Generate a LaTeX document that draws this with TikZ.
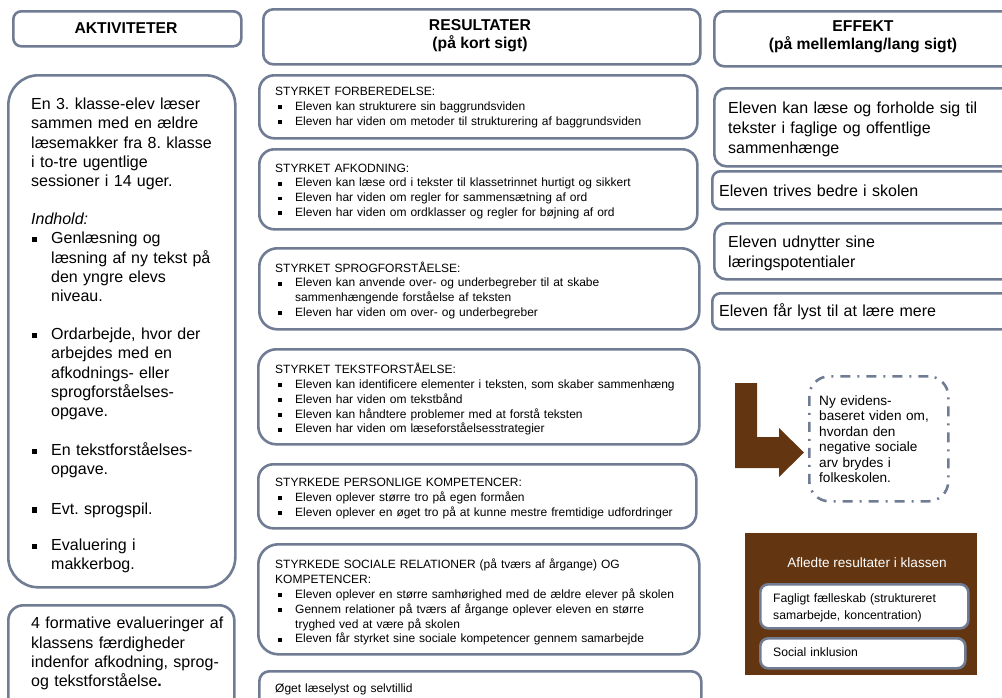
\documentclass[tikz,border=0pt]{standalone}
\usepackage{fontspec}
\setmainfont{Liberation Sans}
\usetikzlibrary{positioning}
\definecolor{kant}{RGB}{112,124,148}
\definecolor{brun}{RGB}{99,54,17}
\setlength{\parindent}{0pt}
\frenchspacing
\newcommand{\fstor}{\fontsize{16}{19.2}\selectfont}
\newcommand{\fmid}{\fontsize{12}{14.8}\selectfont}
\newcommand{\fhoved}{\fontsize{15.7}{18}\selectfont\bfseries}
\newcommand{\feff}{\fontsize{16}{20}\selectfont}
\newcommand{\fny}{\fontsize{13.6}{15.5}\selectfont}
\newcommand{\fbrun}{\fontsize{12.2}{16.7}\selectfont}
\newcommand{\pkt}[2][2.5pt]{\par\hangindent=20pt\hangafter=1\noindent\makebox[20pt][l]{\hspace{#1}\rule[0.1em]{0.33em}{0.33em}}#2\par}
\tikzset{
  boks/.style={draw=kant, line width=2.6pt, fill=white, rounded corners=#1, inner sep=0pt, anchor=north west},
  boks/.default=12pt,
  txt/.style={inner sep=0pt, anchor=north west, align=left},
  hoved/.style={inner sep=0pt, align=center, font=\fhoved},
}

\begin{document}
\begin{tikzpicture}[x=1pt,y=-1pt]
  \useasboundingbox (0,0) rectangle (1002,697);
  \clip (0,0) rectangle (1002,697);

  % aktiviteter
  \node[boks=8pt, minimum width=228pt, minimum height=35pt] (akt-h) at (12,10) {};
  \node[hoved] (akt-ht) at (126,28) {AKTIVITETER};
  \node[boks=30pt, minimum width=227pt, minimum height=512pt] (akt) at (7,74) {};
  \node[txt, text width=205pt, font=\fstor] (akt-t) at (31,98) {%
    En 3. klasse-elev læser\newline sammen med en ældre\newline læsemakker fra 8. klasse\newline i to-tre ugentlige\newline sessioner i 14 uger.\par
    \vspace{19pt}
    \textit{Indhold:}\par
    \pkt[1pt]{Genlæsning og\newline læsning af ny tekst på\newline den yngre elevs\newline niveau.}
    \vspace{19pt}
    \pkt[1pt]{Ordarbejde, hvor der\newline arbejdes med en\newline afkodnings- eller\newline sprogforståelses-\newline opgave.}
    \vspace{20pt}
    \pkt[1pt]{En tekstforståelses-\newline opgave.}
    \vspace{20pt}
    \pkt[1pt]{Evt. sprogspil.}
    \vspace{17pt}
    \pkt[1pt]{Evaluering i\newline makkerbog.}};
  \node[boks=15pt, minimum width=226pt, minimum height=110pt] (eval) at (7,604) {};
  \node[txt, text width=205pt, font=\fstor] (eval-t) at (31,617) {4 formative evalueringer af\newline klassens færdigheder\newline indenfor afkodning, sprog-\newline og tekstforståelse\textbf{.}};

  % resultater
  \node[boks=10pt, minimum width=437pt, minimum height=55pt] (res-h) at (262,8) {};
  \node[hoved] (res-ht) at (480,36) {RESULTATER\\(på kort sigt)};
  \node[boks=15pt, minimum width=438pt, minimum height=63pt] (forb) at (258,74) {};
  \node[txt, text width=420pt, font=\fmid] (forb-t) at (275,87) {STYRKET FORBEREDELSE:
    \pkt{Eleven kan strukturere sin baggrundsviden}
    \pkt{Eleven har viden om metoder til strukturering af baggrundsviden}};
  \node[boks=15pt, minimum width=438pt, minimum height=80pt] (afk) at (258,148) {};
  \node[txt, text width=420pt, font=\fmid] (afk-t) at (275,163.5) {STYRKET AFKODNING:
    \pkt{Eleven kan læse ord i tekster til klassetrinnet hurtigt og sikkert}
    \pkt{Eleven har viden om regler for sammensætning af ord}
    \pkt{Eleven har viden om ordklasser og regler for bøjning af ord}};
  \node[boks=18pt, minimum width=440pt, minimum height=81pt] (sprog) at (258,247) {};
  \node[txt, text width=420pt, font=\fmid] (sprog-t) at (275,261.5) {STYRKET SPROGFORSTÅELSE:
    \pkt{Eleven kan anvende over- og underbegreber til at skabe\newline sammenhængende forståelse af teksten}
    \pkt{Eleven har viden om over- og underbegreber}};
  \node[boks=18pt, minimum width=441pt, minimum height=95pt] (tekst) at (257,348) {};
  \node[txt, text width=420pt, font=\fmid] (tekst-t) at (275,363) {STYRKET TEKSTFORSTÅELSE:
    \pkt{Eleven kan identificere elementer i teksten, som skaber sammenhæng}
    \pkt{Eleven har viden om tekstbånd}
    \pkt{Eleven kan håndtere problemer med at forstå teksten}
    \pkt{Eleven har viden om læseforståelsesstrategier}};
  \node[boks=15pt, minimum width=438pt, minimum height=64pt] (pers) at (257,463) {};
  \node[txt, text width=420pt, font=\fmid] (pers-t) at (275,478) {STYRKEDE PERSONLIGE KOMPETENCER:
    \pkt{Eleven oplever større tro på egen formåen}
    \pkt{Eleven oplever en øget tro på at kunne mestre fremtidige udfordringer}};
  \node[boks=20pt, minimum width=441pt, minimum height=110pt] (soc) at (257,543) {};
  \node[txt, text width=420pt, font=\fmid] (soc-t) at (275,559) {STYRKEDE SOCIALE RELATIONER (på tværs af årgange) OG\newline KOMPETENCER:
    \pkt{Eleven oplever en større samhørighed med de ældre elever på skolen}
    \pkt{Gennem relationer på tværs af årgange oplever eleven en større\newline tryghed ved at være på skolen}
    \pkt{Eleven får styrket sine sociale kompetencer gennem samarbejde}};
  \node[boks=10pt, minimum width=442pt, minimum height=50pt] (lyst) at (258,670) {};
  \node[txt, text width=420pt, font=\fmid] (lyst-t) at (275,684) {Øget læselyst og selvtillid};

  % effekt
  \node[boks=10pt, minimum width=300pt, minimum height=55pt] (eff-h) at (713,10) {};
  \node[hoved] (eff-ht) at (863,37) {EFFEKT\\(på mellemlang/lang sigt)};
  \node[boks=12pt, minimum width=300pt, minimum height=78pt] (eff1) at (713,87) {};
  \node[txt, text width=270pt, font=\feff] (eff1-t) at (728,102) {Eleven kan læse og forholde sig til\newline tekster i faglige og offentlige\newline sammenhænge};
  \node[boks=8pt, minimum width=300pt, minimum height=38pt] (eff2) at (711,170) {};
  \node[txt, text width=270pt, font=\feff] (eff2-t) at (719,185) {Eleven trives bedre i skolen};
  \node[boks=12pt, minimum width=300pt, minimum height=56pt] (eff3) at (713,222) {};
  \node[txt, text width=270pt, font=\feff] (eff3-t) at (728,236) {Eleven udnytter sine\newline læringspotentialer};
  \node[boks=8pt, minimum width=300pt, minimum height=36pt] (eff4) at (711,292) {};
  \node[txt, text width=270pt, font=\feff] (eff4-t) at (719,303) {Eleven får lyst til at lære mere};

  % pil og ny viden
  \fill[brun] (735,383) -- (757,383) -- (757,437) -- (779,437) -- (779,428) -- (804,452.5) -- (779,477) -- (779,468) -- (735,468) -- cycle;
  \node[draw=kant, line width=2.6pt, rounded corners=20pt, dash pattern=on 10pt off 7pt on 2pt off 7pt, minimum width=139pt, minimum height=125pt, anchor=north west] (ny) at (808,375) {};
  \node[txt, text width=125pt, font=\fny] (ny-t) at (819,395) {Ny evidens-\newline baseret viden om,\newline hvordan den\newline negative sociale\newline arv brydes i\newline folkeskolen.};

  % afledte resultater
  \fill[brun] (745,533) rectangle (977,675);
  \node[inner sep=0pt, text=white, font=\fny] (afl) at (867,563) {Afledte resultater i klassen};
  \node[boks=8pt, minimum width=208pt, minimum height=44pt] (afl1) at (759,583) {};
  \node[txt, text width=190pt, font=\fbrun] (afl1-t) at (773,593.5) {Fagligt fælleskab (struktureret\newline samarbejde, koncentration)};
  \node[boks=8pt, minimum width=205pt, minimum height=30pt] (afl2) at (759,637) {};
  \node[txt, text width=190pt, font=\fbrun] (afl2-t) at (773,647.5) {Social inklusion};
\end{tikzpicture}
\end{document}
